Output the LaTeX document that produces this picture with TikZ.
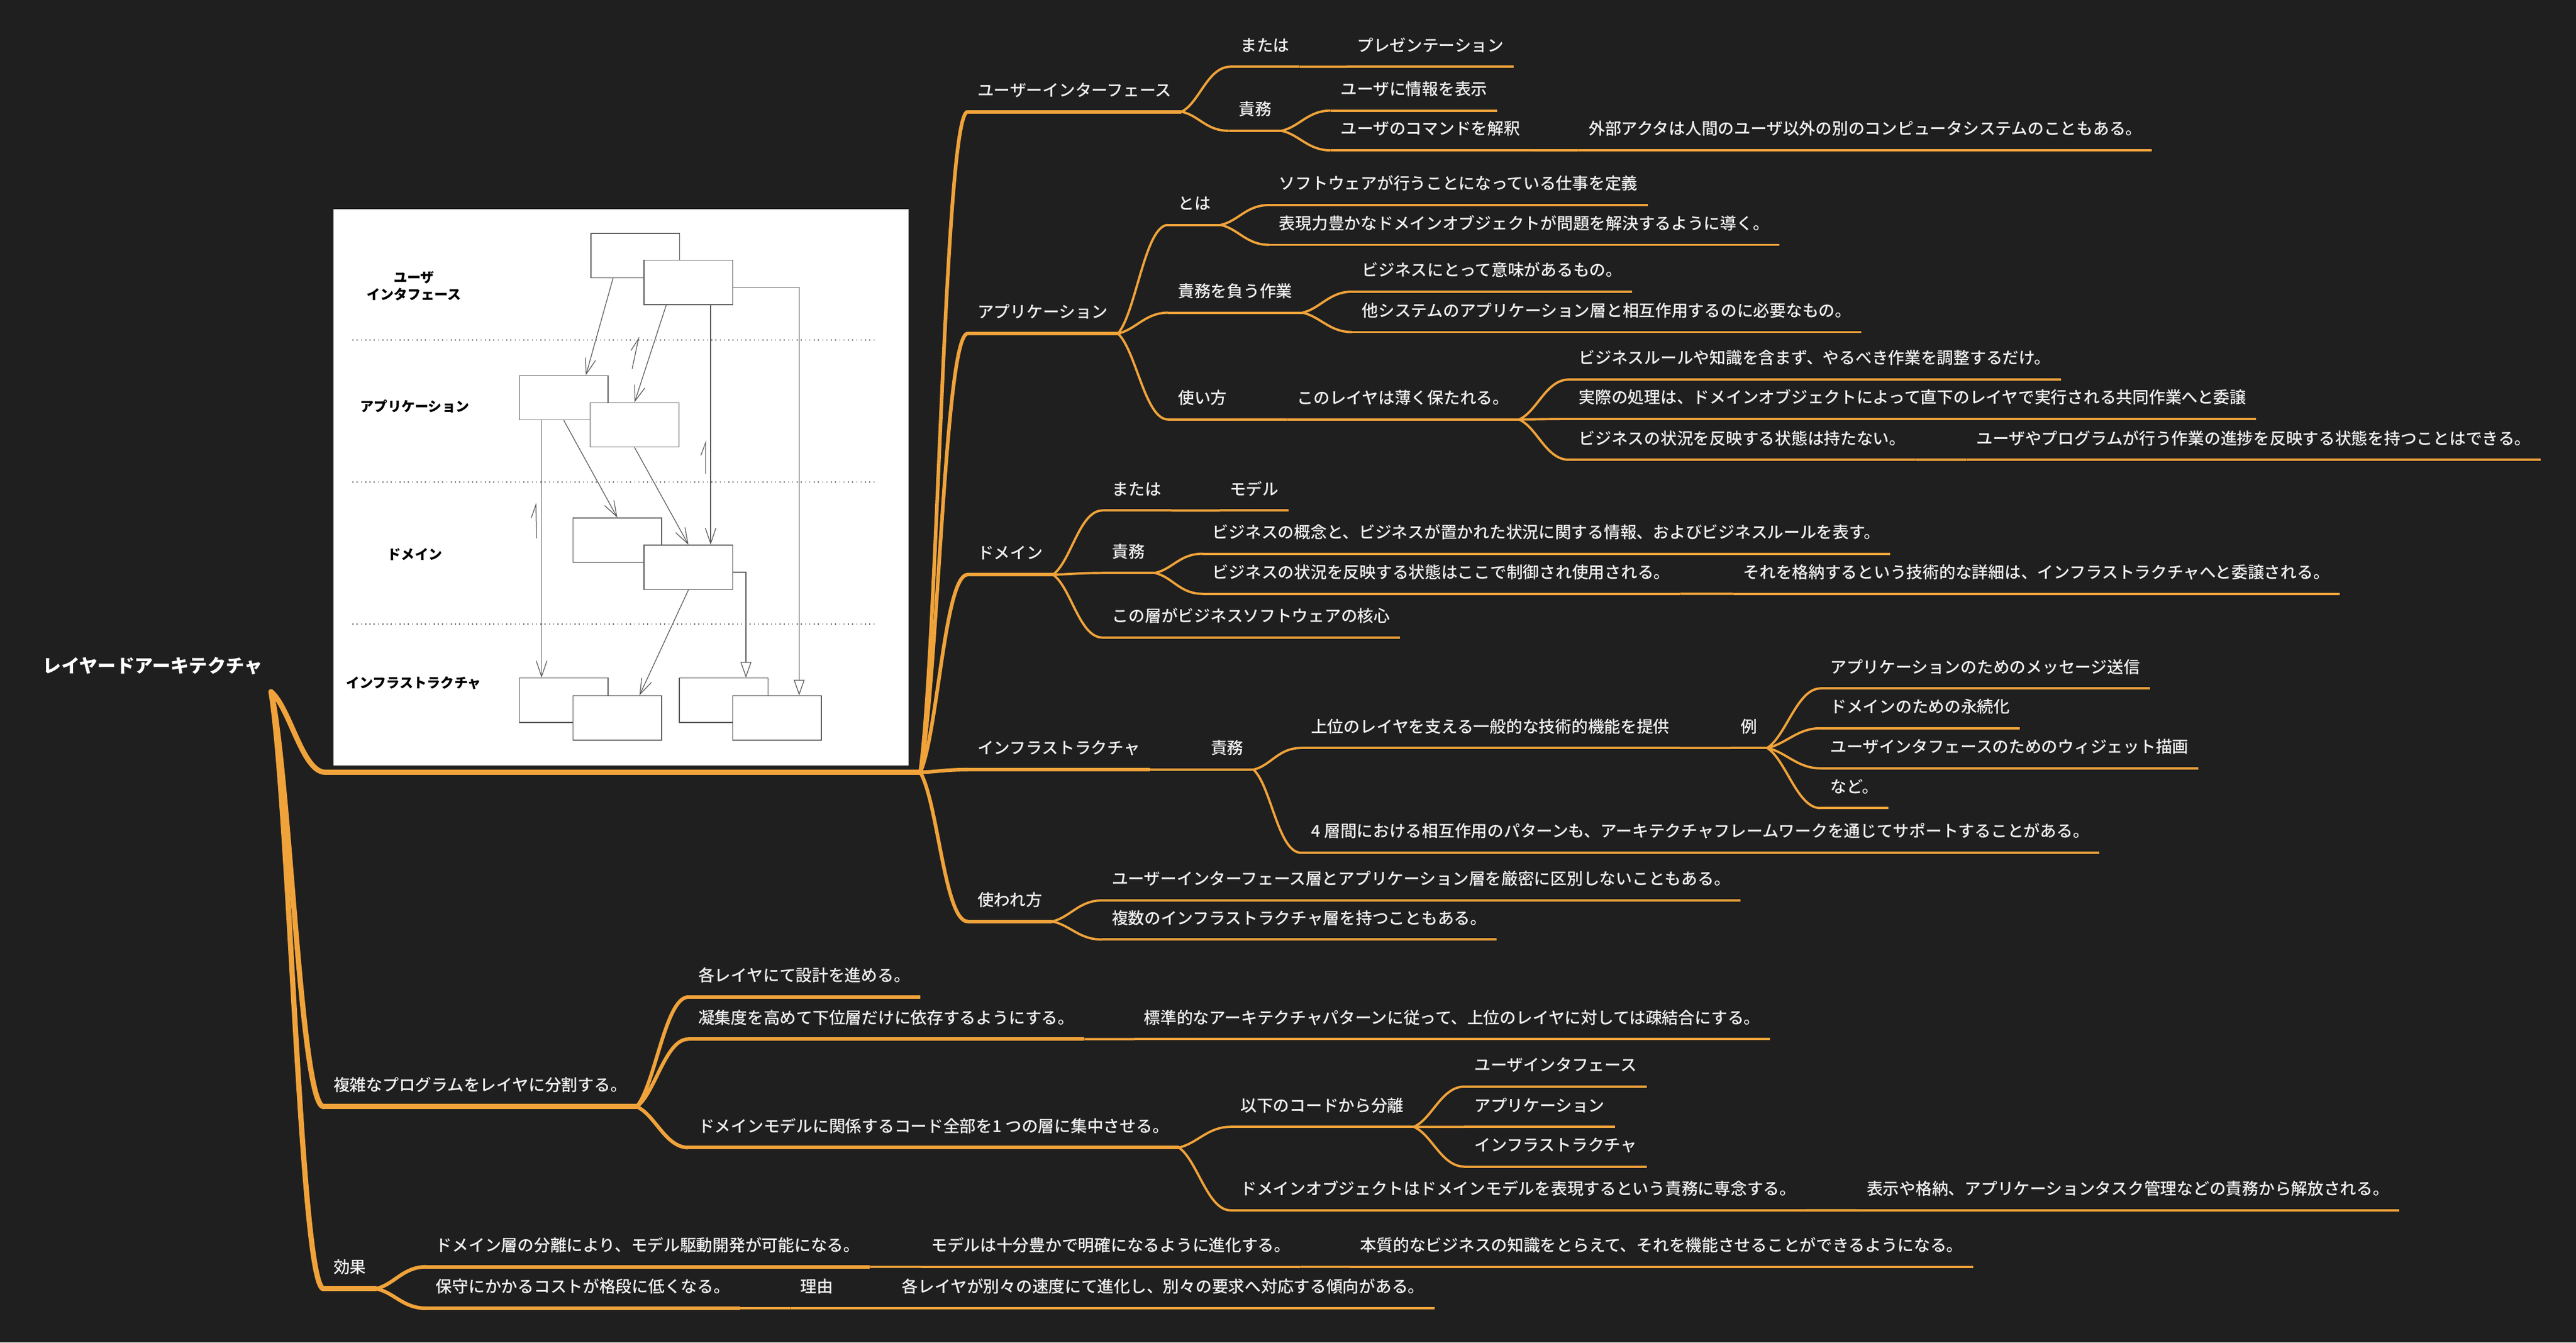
\documentclass[tikz,border=0pt]{standalone}
\usepackage{fontspec}
\setmainfont{Noto Sans CJK JP}
\newfontfamily\jpmedium{Noto Sans CJK JP Medium}
\usepackage{tikz}
\usetikzlibrary{arrows.meta, calc}

\definecolor{bg}{RGB}{31,31,31}
\definecolor{branch}{RGB}{240,163,58}
\definecolor{txt}{RGB}{238,238,238}
\definecolor{boxline}{RGB}{90,90,90}

\begin{document}
\begin{tikzpicture}[
            x=1mm, y=-1mm,
            topic/.style={anchor=south west, inner xsep=6mm, inner ysep=0pt, text depth=9.3mm, text=txt, font=\jpmedium\fontsize{28.3}{30}\selectfont},
            wireone/.style={draw=branch, line width=3.2mm},
            wiretwo/.style={draw=branch, line width=2.2mm},
            wirethree/.style={draw=branch, line width=1.4mm},
            topicone/.style={topic, append after command={(\tikzlastnode.south west) edge[wireone] (\tikzlastnode.south east)}},
            topictwo/.style={topic, append after command={(\tikzlastnode.south west) edge[wiretwo] (\tikzlastnode.south east)}},
            topicthree/.style={topic, append after command={(\tikzlastnode.south west) edge[wirethree] (\tikzlastnode.south east)}},
            wire/.style={to path={.. controls ($(\tikztostart)!0.2!(\tikztotarget)+(5,0)$) and ($(\tikztotarget)+(-14,0)$) .. (\tikztotarget)}},
            layerbox/.style={draw=boxline, fill=white, line width=0.5mm, minimum width=54mm, minimum height=27mm, inner sep=0pt, anchor=north west},
            layername/.style={text=black, align=center, font=\bfseries\fontsize{23.6}{29.6}\selectfont},
            layersep/.style={draw=boxline, line width=0.65mm, dash pattern=on 0.6mm off 2mm},
            dep/.style={draw=boxline, line width=0.45mm, -{Straight Barb[length=9.5mm, width=6.5mm]}},
            gen/.style={draw=boxline, line width=0.45mm, -{Triangle[open, fill=white, length=9.5mm, width=6.6mm]}},
            back/.style={draw=boxline, line width=0.45mm, -{Straight Barb[harpoon, length=8mm, width=6mm]}}
        ]
            \fill[bg] (0,0) rectangle (1568,817);
            \useasboundingbox (0,0) rectangle (1568,817);

            \node[anchor=south east, inner xsep=5mm, inner ysep=0pt, text depth=11.7mm, text=white, font=\bfseries\fontsize{32}{34}\selectfont] (root) at (165,421) {レイヤードアーキテクチャ};

            \node[topicone, minimum width=362mm] (diagram) at (198,470) {};
            \node[topicone] (complex) at (197,673.5) {複雑なプログラムをレイヤに分割する。};
            \node[topicone] (effect) at (197,784.3) {効果};
            \draw[wireone, line cap=round] (root.south east) to[wire] (diagram.south west);
            \draw[wireone, line cap=round] (root.south east) to[wire] (complex.south west);
            \draw[wireone, line cap=round] (root.south east) to[wire] (effect.south west);

            \fill[white] (203,127.3) rectangle (553,465.7);
            \draw[layersep] (214.5,207) -- (532.7,207);
            \draw[layersep] (214.5,293.3) -- (532.7,293.3);
            \draw[layersep] (214.5,379.8) -- (532.7,379.8);
            \node[layername] (name_ui) at (252,174.2) {ユーザ\\インタフェース};
            \node[layername] (name_app) at (252.5,247.2) {アプリケーション};
            \node[layername] (name_dom) at (252.5,337.4) {ドメイン};
            \node[layername] (name_inf) at (251.8,415.6) {インフラストラクチャ};
            \node[layerbox] (ui1) at (359.4,141.8) {};
            \node[layerbox] (ui2) at (391.8,158.1) {};
            \node[layerbox] (app1) at (315.9,228.3) {};
            \node[layerbox] (app2) at (359,244.8) {};
            \node[layerbox] (dom1) at (348.5,315) {};
            \node[layerbox] (dom2) at (391.8,331.5) {};
            \node[layerbox] (inf1) at (315.9,412.4) {};
            \node[layerbox] (inf2) at (348.5,423.2) {};
            \node[layerbox] (inf3) at (413.3,412.4) {};
            \node[layerbox] (inf4) at (445.7,423.2) {};
            \draw[dep] ([xshift=-13.5mm]ui1.south) -- ([xshift=13.5mm]app1.north);
            \draw[dep] ([xshift=-13.5mm]ui2.south) -- (app2.north);
            \draw[dep] ([xshift=13.5mm]ui2.south) -- ([xshift=13.5mm]dom2.north);
            \draw[gen] ([yshift=-3mm]ui2.east) -| ([xshift=13.5mm]inf4.north);
            \draw[dep] ([xshift=-13.5mm]app1.south) -- ([xshift=-13.5mm]inf1.north);
            \draw[dep] (app1.south) -- (dom1.north);
            \draw[dep] (app2.south) -- (dom2.north);
            \draw[gen] ([yshift=-3mm]dom2.east) -| ([xshift=13.5mm]inf3.north);
            \draw[dep] (dom2.south) -- ([xshift=13.5mm]inf2.north);
            \draw[back] (384.8,224.4) -- (388.9,204.9);
            \draw[back] (429.6,288.5) -- (429.6,267.9);
            \draw[back] (326.6,327.6) -- (326.2,305.9);

            \node[topictwo] (ui) at (589,68) {ユーザーインターフェース};
            \node[topictwo] (app) at (589,203) {アプリケーション};
            \node[topictwo] (dom) at (589,349.7) {ドメイン};
            \node[topictwo] (inf) at (589,468.4) {インフラストラクチャ};
            \node[topictwo] (use) at (589,560.8) {使われ方};
            \draw[wiretwo] (diagram.south east) to[wire] (ui.south west);
            \draw[wiretwo] (diagram.south east) to[wire] (app.south west);
            \draw[wiretwo] (diagram.south east) to[wire] (dom.south west);
            \draw[wiretwo] (diagram.south east) to[wire] (inf.south west);
            \draw[wiretwo] (diagram.south east) to[wire] (use.south west);

            \node[topicthree] (ui_or) at (749,40.6) {または};
            \node[topicthree] (ui_pres) at (820,40.6) {プレゼンテーション};
            \node[topicthree] (ui_duty) at (748,79.6) {責務};
            \node[topicthree] (ui_show) at (810,67.3) {ユーザに情報を表示};
            \node[topicthree] (ui_cmd) at (810,91.5) {ユーザのコマンドを解釈};
            \node[topicthree] (ui_ext) at (961,91.5) {外部アクタは人間のユーザ以外の別のコンピュータシステムのこともある。};
            \draw[wirethree] (ui.south east) to[wire] (ui_or.south west);
            \draw[wirethree] (ui_or.south east) to[wire] (ui_pres.south west);
            \draw[wirethree] (ui.south east) to[wire] (ui_duty.south west);
            \draw[wirethree] (ui_duty.south east) to[wire] (ui_show.south west);
            \draw[wirethree] (ui_duty.south east) to[wire] (ui_cmd.south west);
            \draw[wirethree] (ui_cmd.south east) to[wire] (ui_ext.south west);

            \node[topicthree] (app_what) at (711,136.9) {とは};
            \node[topicthree] (app_def) at (772.5,124.8) {ソフトウェアが行うことになっている仕事を定義};
            \node[topicthree] (app_guide) at (772.5,149) {表現力豊かなドメインオブジェクトが問題を解決するように導く。};
            \node[topicthree] (app_task) at (711,190.3) {責務を負う作業};
            \node[topicthree] (app_mean) at (823,177.5) {ビジネスにとって意味があるもの。};
            \node[topicthree] (app_other) at (823,202.1) {他システムのアプリケーション層と相互作用するのに必要なもの。};
            \node[topicthree] (app_use) at (711,255.3) {使い方};
            \node[topicthree] (app_thin) at (783.5,255.3) {このレイヤは薄く保たれる。};
            \node[topicthree] (app_coord) at (955,231) {ビジネスルールや知識を含まず、やるべき作業を調整するだけ。};
            \node[topicthree] (app_deleg) at (955,255) {実際の処理は、ドメインオブジェクトによって直下のレイヤで実行される共同作業へと委譲};
            \node[topicthree] (app_state) at (955,279.8) {ビジネスの状況を反映する状態は持たない。};
            \node[topicthree] (app_prog) at (1197,279.8) {ユーザやプログラムが行う作業の進捗を反映する状態を持つことはできる。};
            \draw[wirethree] (app.south east) to[wire] (app_what.south west);
            \draw[wirethree] (app_what.south east) to[wire] (app_def.south west);
            \draw[wirethree] (app_what.south east) to[wire] (app_guide.south west);
            \draw[wirethree] (app.south east) to[wire] (app_task.south west);
            \draw[wirethree] (app_task.south east) to[wire] (app_mean.south west);
            \draw[wirethree] (app_task.south east) to[wire] (app_other.south west);
            \draw[wirethree] (app.south east) to[wire] (app_use.south west);
            \draw[wirethree] (app_use.south east) to[wire] (app_thin.south west);
            \draw[wirethree] (app_thin.south east) to[wire] (app_coord.south west);
            \draw[wirethree] (app_thin.south east) to[wire] (app_deleg.south west);
            \draw[wirethree] (app_thin.south east) to[wire] (app_state.south west);
            \draw[wirethree] (app_state.south east) to[wire] (app_prog.south west);

            \node[topicthree] (dom_or) at (671,310.7) {または};
            \node[topicthree] (dom_model) at (742.5,310.7) {モデル};
            \node[topicthree] (dom_duty) at (671,348.7) {責務};
            \node[topicthree] (dom_concept) at (732,337) {ビジネスの概念と、ビジネスが置かれた状況に関する情報、およびビジネスルールを表す。};
            \node[topicthree] (dom_state) at (732,361.4) {ビジネスの状況を反映する状態はここで制御され使用される。};
            \node[topicthree] (dom_store) at (1055,361.4) {それを格納するという技術的な詳細は、インフラストラクチャへと委譲される。};
            \node[topicthree] (dom_core) at (671,388) {この層がビジネスソフトウェアの核心};
            \draw[wirethree] (dom.south east) to[wire] (dom_or.south west);
            \draw[wirethree] (dom_or.south east) to[wire] (dom_model.south west);
            \draw[wirethree] (dom.south east) to[wire] (dom_duty.south west);
            \draw[wirethree] (dom_duty.south east) to[wire] (dom_concept.south west);
            \draw[wirethree] (dom_duty.south east) to[wire] (dom_state.south west);
            \draw[wirethree] (dom_state.south east) to[wire] (dom_store.south west);
            \draw[wirethree] (dom.south east) to[wire] (dom_core.south west);

            \node[topicthree] (inf_duty) at (731,468.4) {責務};
            \node[topicthree] (inf_func) at (792,455.2) {上位のレイヤを支える一般的な技術的機能を提供};
            \node[topicthree] (inf_ex) at (1053.6,455.2) {例};
            \node[topicthree] (inf_msg) at (1108,419) {アプリケーションのためのメッセージ送信};
            \node[topicthree] (inf_persist) at (1108,443.2) {ドメインのための永続化};
            \node[topicthree] (inf_widget) at (1108,467.6) {ユーザインタフェースのためのウィジェット描画};
            \node[topicthree] (inf_etc) at (1108,491.8) {など。};
            \node[topicthree] (inf_pattern) at (792,519) {4 層間における相互作用のパターンも、アーキテクチャフレームワークを通じてサポートすることがある。};
            \draw[wirethree] (inf.south east) to[wire] (inf_duty.south west);
            \draw[wirethree] (inf_duty.south east) to[wire] (inf_func.south west);
            \draw[wirethree] (inf_func.south east) to[wire] (inf_ex.south west);
            \draw[wirethree] (inf_ex.south east) to[wire] (inf_msg.south west);
            \draw[wirethree] (inf_ex.south east) to[wire] (inf_persist.south west);
            \draw[wirethree] (inf_ex.south east) to[wire] (inf_widget.south west);
            \draw[wirethree] (inf_ex.south east) to[wire] (inf_etc.south west);
            \draw[wirethree] (inf_duty.south east) to[wire] (inf_pattern.south west);

            \node[topicthree] (use_mix) at (670.7,548) {ユーザーインターフェース層とアプリケーション層を厳密に区別しないこともある。};
            \node[topicthree] (use_multi) at (670.7,571.8) {複数のインフラストラクチャ層を持つこともある。};
            \draw[wirethree] (use.south east) to[wire] (use_mix.south west);
            \draw[wirethree] (use.south east) to[wire] (use_multi.south west);

            \node[topictwo] (cx_each) at (419,606.8) {各レイヤにて設計を進める。};
            \node[topictwo] (cx_cohesion) at (419,632.4) {凝集度を高めて下位層だけに依存するようにする。};
            \node[topicthree] (cx_loose) at (690.3,632.4) {標準的なアーキテクチャパターンに従って、上位のレイヤに対しては疎結合にする。};
            \node[topictwo] (cx_focus) at (419,698.4) {ドメインモデルに関係するコード全部を1 つの層に集中させる。};
            \node[topicthree] (cx_sep) at (749,685.8) {以下のコードから分離};
            \node[topicthree] (cx_ui) at (891.4,661.3) {ユーザインタフェース};
            \node[topicthree] (cx_app) at (891.4,685.8) {アプリケーション};
            \node[topicthree] (cx_inf) at (891.4,710) {インフラストラクチャ};
            \node[topicthree] (cx_obj) at (749,736.6) {ドメインオブジェクトはドメインモデルを表現するという責務に専念する。};
            \node[topicthree] (cx_free) at (1130.2,736.6) {表示や格納、アプリケーションタスク管理などの責務から解放される。};
            \draw[wiretwo] (complex.south east) to[wire] (cx_each.south west);
            \draw[wiretwo] (complex.south east) to[wire] (cx_cohesion.south west);
            \draw[wirethree] (cx_cohesion.south east) to[wire] (cx_loose.south west);
            \draw[wiretwo] (complex.south east) to[wire] (cx_focus.south west);
            \draw[wirethree] (cx_focus.south east) to[wire] (cx_sep.south west);
            \draw[wirethree] (cx_sep.south east) to[wire] (cx_ui.south west);
            \draw[wirethree] (cx_sep.south east) to[wire] (cx_app.south west);
            \draw[wirethree] (cx_sep.south east) to[wire] (cx_inf.south west);
            \draw[wirethree] (cx_focus.south east) to[wire] (cx_obj.south west);
            \draw[wirethree] (cx_obj.south east) to[wire] (cx_free.south west);

            \node[topictwo] (ef_mdd) at (259.3,771) {ドメイン層の分離により、モデル駆動開発が可能になる。};
            \node[topicthree] (ef_evolve) at (560.7,771) {モデルは十分豊かで明確になるように進化する。};
            \node[topicthree] (ef_know) at (822,771) {本質的なビジネスの知識をとらえて、それを機能させることができるようになる。};
            \node[topictwo] (ef_cost) at (259.3,796.2) {保守にかかるコストが格段に低くなる。};
            \node[topicthree] (ef_why) at (481.2,796.2) {理由};
            \node[topicthree] (ef_speed) at (543,796.2) {各レイヤが別々の速度にて進化し、別々の要求へ対応する傾向がある。};
            \draw[wiretwo] (effect.south east) to[wire] (ef_mdd.south west);
            \draw[wirethree] (ef_mdd.south east) to[wire] (ef_evolve.south west);
            \draw[wirethree] (ef_evolve.south east) to[wire] (ef_know.south west);
            \draw[wiretwo] (effect.south east) to[wire] (ef_cost.south west);
            \draw[wirethree] (ef_cost.south east) to[wire] (ef_why.south west);
            \draw[wirethree] (ef_why.south east) to[wire] (ef_speed.south west);
        \end{tikzpicture}
\end{document}
